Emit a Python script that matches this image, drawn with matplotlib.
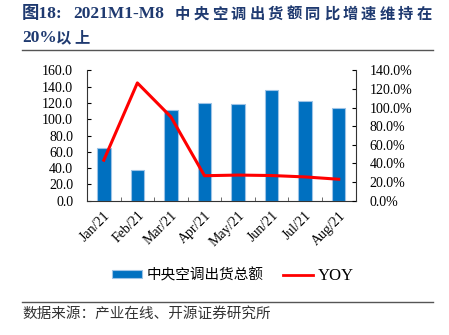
import matplotlib
matplotlib.use("Agg")
import matplotlib.pyplot as plt
from matplotlib.lines import Line2D
from matplotlib.patches import Patch
import numpy as np

categories = ["Jan/21", "Feb/21", "Mar/21", "Apr/21", "May/21", "Jun/21", "Jul/21", "Aug/21"]
shipments = [65.0, 37.5, 111.0, 119.5, 119.0, 135.5, 122.5, 114.0]
yoy = [43.5, 126.5, 90.0, 26.8, 27.5, 27.0, 25.5, 23.0]
left_ticks = [0, 20, 40, 60, 80, 100, 120, 140, 160]
right_ticks = [0, 20, 40, 60, 80, 100, 120, 140]

SERIF = ["Liberation Serif", "Noto Sans CJK SC"]
CJK = ["Noto Sans CJK SC", "Liberation Serif"]
plt.rcParams["font.family"] = SERIF

W, H = 449, 335
def fx(px): return px / W
def fy(py): return 1 - py / H

fig = plt.figure(figsize=(4.49, 3.35), dpi=100)
ax = fig.add_axes([0.1938, 0.401, 0.598, 0.389])
x = np.arange(len(categories))
ax.bar(x, shipments, width=0.4, color="#0070C0", edgecolor="#9DC3E6", linewidth=0.8, zorder=2)
ax.set_ylim(0, 160)
ax.set_xlim(-0.5, len(categories) - 0.5)
ax.set_yticks(left_ticks)
ax.set_yticklabels([f"{v:.1f}" for v in left_ticks], fontsize=10)
ax.set_xticks(x)
ax.set_xticklabels(categories, rotation=45, ha="right", rotation_mode="anchor", fontsize=10)
ax.tick_params(axis="x", length=0, pad=6)
ax.set_xticks(np.arange(len(categories) + 1) - 0.5, minor=True)
ax.tick_params(axis="x", which="minor", direction="in", length=3, color="#555555")
ax.tick_params(axis="y", direction="in", length=3, pad=10)
for s in ["top", "right"]:
    ax.spines[s].set_visible(False)
ax.spines["left"].set_color("#333333")
ax.spines["bottom"].set_color("#333333")

ax2 = ax.twinx()
ax2.plot(x, yoy, color="#FF0000", linewidth=2.2, zorder=3)
ax2.set_ylim(0, 140)
ax2.set_yticks(right_ticks)
ax2.set_yticklabels([f"{v:.1f}%" for v in right_ticks], fontsize=10)
ax2.tick_params(axis="y", direction="in", length=3, pad=10)
for s in ["top", "left", "bottom"]:
    ax2.spines[s].set_visible(False)
ax2.spines["right"].set_color("#333333")

# Title (characters spaced out as in the reference)
TC = "#1F3A70"
fig.text(fx(22), fy(13.5), "图18:", fontsize=12.5, fontweight="bold", color=TC,
         va="center", ha="left", family=SERIF)
fig.text(fx(73), fy(13.5), "2021M1-M8", fontsize=12.5, fontweight="bold", color=TC,
         va="center", ha="left", family=SERIF)
title_cn = "中央空调出货额同比增速维持在"
for i, ch in enumerate(title_cn):
    fig.text(fx(175 + i * 18.6), fy(13.5), ch, fontsize=11, fontweight="bold", color=TC,
             va="center", ha="left", family=CJK)
fig.text(fx(22), fy(37.5), "20%", fontsize=12.5, fontweight="bold", color=TC,
         va="center", ha="left", family=SERIF)
for i, ch in enumerate("以上"):
    fig.text(fx(56 + i * 18), fy(37.5), ch, fontsize=11, fontweight="bold", color=TC,
             va="center", ha="left", family=CJK)
fig.add_artist(Line2D([fx(22), fx(433)], [fy(49.5), fy(49.5)], color="#555555", linewidth=1))

# Legend
handles = [Patch(facecolor="#0070C0", edgecolor="#9DC3E6", linewidth=0.8),
           Line2D([0], [0], color="#FF0000", linewidth=2)]
leg = fig.legend(handles, ["中央空调出货总额", "YOY"], loc="center", bbox_to_anchor=(fx(233), fy(275.5)),
                 ncol=2, frameon=False, handlelength=2.05, handleheight=0.45,
                 columnspacing=1.3, handletextpad=0.35, prop={"family": CJK, "size": 10.5})
for t in leg.get_texts():
    if t.get_text() == "YOY":
        t.set_family(SERIF)
        t.set_fontsize(12)

fig.add_artist(Line2D([fx(22), fx(433)], [fy(301.5), fy(301.5)], color="#555555", linewidth=1))
fig.text(fx(22), fy(314), "数据来源：产业在线、开源证券研究所", fontsize=10.5, color="#333333",
         va="center", ha="left", family=CJK)

fig.savefig("out.png", dpi=100)
